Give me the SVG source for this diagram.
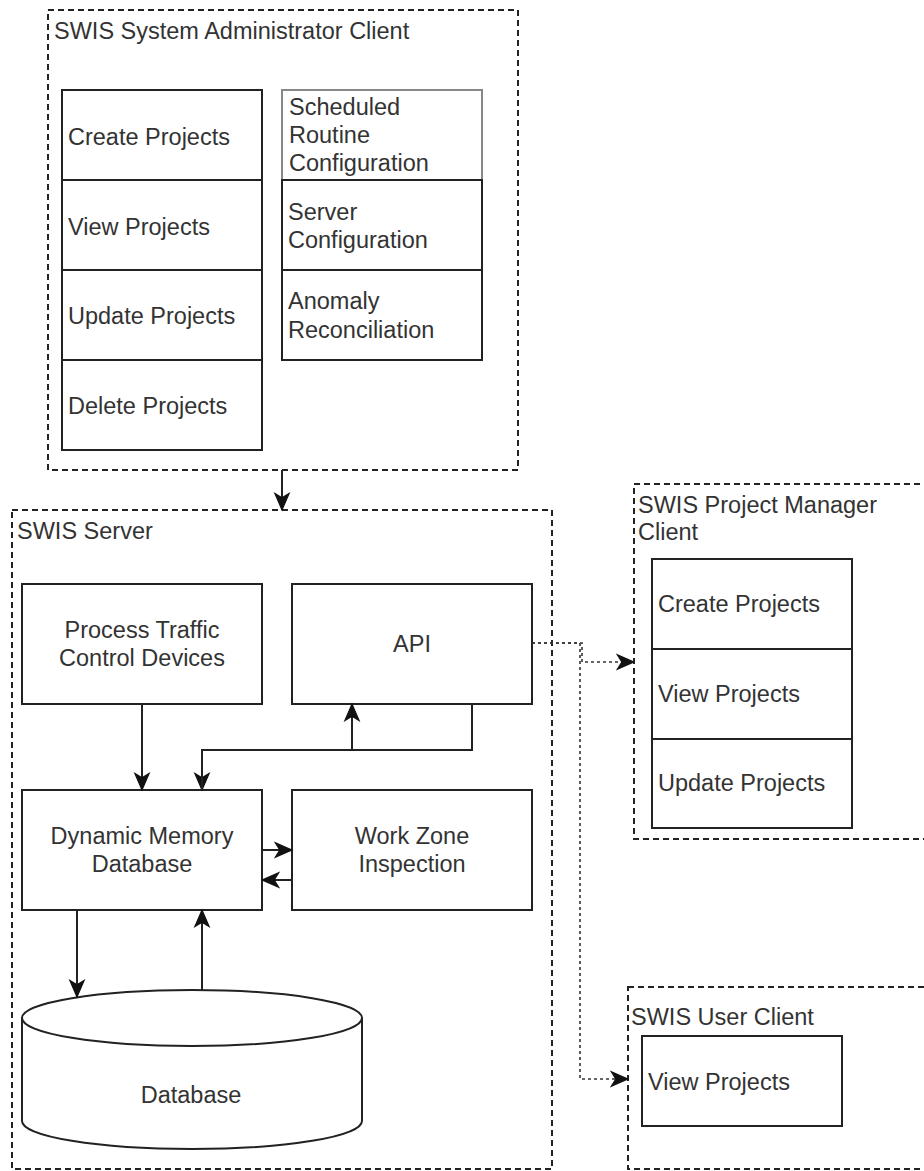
<svg xmlns="http://www.w3.org/2000/svg" width="924" height="1171" viewBox="0 0 924 1171">
<defs>
<style>
text{font-family:"Liberation Sans",Arial,Helvetica,sans-serif;font-size:23.5px;fill:#333}
.c{text-anchor:middle}
.box{fill:#fff;stroke:#222;stroke-width:2}
.gbox{fill:#fff;stroke:#888;stroke-width:2}
.cont{fill:none;stroke:#222;stroke-width:2;stroke-dasharray:6 4}
.edge{fill:none;stroke:#222;stroke-width:2;marker-end:url(#arr)}
.dot{fill:none;stroke:#333;stroke-width:1.6;stroke-dasharray:3 3;marker-end:url(#arr)}
</style>
<marker id="arr" markerUnits="userSpaceOnUse" markerWidth="20" markerHeight="20" viewBox="-16 -8 18 16" refX="0" refY="0" orient="auto">
<path d="M0,0 L-15,-6.5 L-11,0 L-15,6.5 Z" fill="#111" stroke="#111" stroke-width="1" stroke-dasharray="none"/>
</marker>
</defs>
<rect width="924" height="1171" fill="#fff"/>

<g id="admin-client">
<rect class="cont" x="48" y="10" width="470" height="460"/>
<text x="54" y="39">SWIS System Administrator Client</text>
<g id="admin-create"><rect class="box" x="62" y="90" width="200" height="90"/><text x="68" y="145">Create Projects</text></g>
<g id="admin-view"><rect class="box" x="62" y="180" width="200" height="90"/><text x="68" y="235">View Projects</text></g>
<g id="admin-update"><rect class="box" x="62" y="270" width="200" height="90"/><text x="68" y="324">Update Projects</text></g>
<g id="admin-delete"><rect class="box" x="62" y="360" width="200" height="90"/><text x="68" y="414">Delete Projects</text></g>
<g id="admin-sched"><rect class="gbox" x="282" y="90" width="200" height="90"/><text x="289" y="115">Scheduled</text><text x="289" y="143">Routine</text><text x="289" y="171">Configuration</text></g>
<g id="admin-server"><rect class="box" x="282" y="180" width="200" height="90"/><text x="288" y="220">Server</text><text x="288" y="248">Configuration</text></g>
<g id="admin-anomaly"><rect class="box" x="282" y="270" width="200" height="90"/><text x="288" y="309">Anomaly</text><text x="288" y="338">Reconciliation</text></g>
</g>

<g id="server">
<rect class="cont" x="12" y="510" width="540" height="659"/>
<text x="17" y="539">SWIS Server</text>
<g id="ptcd"><rect class="box" x="22" y="584" width="240" height="120"/><text class="c" x="142" y="638">Process Traffic</text><text class="c" x="142" y="666">Control Devices</text></g>
<g id="api"><rect class="box" x="292" y="584" width="240" height="120"/><text class="c" x="412" y="652">API</text></g>
<g id="dmd"><rect class="box" x="22" y="790" width="240" height="120"/><text class="c" x="142" y="844">Dynamic Memory</text><text class="c" x="142" y="872">Database</text></g>
<g id="wzi"><rect class="box" x="292" y="790" width="240" height="120"/><text class="c" x="412" y="844">Work Zone</text><text class="c" x="412" y="872">Inspection</text></g>
<g id="database">
<path d="M22,1018 A170,28 0 0 1 362,1018 V1121 A170,28 0 0 1 22,1121 Z" fill="#fff" stroke="#222" stroke-width="2"/>
<path d="M22,1018 A170,28 0 0 0 362,1018" fill="none" stroke="#222" stroke-width="2"/>
<text class="c" x="191" y="1103">Database</text>
</g>
</g>

<g id="pm-client">
<rect class="cont" x="634" y="484" width="320" height="355"/>
<text x="638" y="513">SWIS Project Manager</text>
<text x="638" y="540">Client</text>
<g id="pm-create"><rect class="box" x="652" y="559" width="200" height="90"/><text x="658" y="612">Create Projects</text></g>
<g id="pm-view"><rect class="box" x="652" y="649" width="200" height="90"/><text x="658" y="702">View Projects</text></g>
<g id="pm-update"><rect class="box" x="652" y="739" width="200" height="89"/><text x="658" y="791">Update Projects</text></g>
</g>

<g id="user-client">
<rect class="cont" x="628" y="987" width="320" height="182"/>
<text x="631" y="1025">SWIS User Client</text>
<g id="user-view"><rect class="box" x="642" y="1036" width="200" height="90"/><text x="648" y="1090">View Projects</text></g>
</g>

<g id="connectors">
<path class="edge" d="M282,470 V510"/>
<path class="edge" d="M142,704 V790"/>
<path class="edge" d="M472,704 V750 H202 V790"/>
<path class="edge" d="M202,790 V750 H352 V704"/>
<path class="edge" d="M262,850 H292"/>
<path class="edge" d="M292,880 H262"/>
<path class="edge" d="M77,910 V997"/>
<path class="edge" d="M202,990 V910"/>
<path class="dot" d="M532,643 H582 V662 H634"/>
<path class="dot" d="M532,643 H580 V1079 H628"/>
</g>
</svg>
